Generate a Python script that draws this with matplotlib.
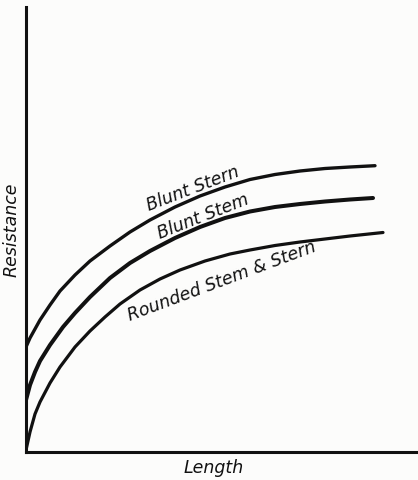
import matplotlib
matplotlib.use("Agg")
import matplotlib.pyplot as plt

# curve points (arbitrary units: length 0-392, resistance 0-445)
stern_x = [0, 4, 9, 14, 24, 34, 49, 64, 84, 104, 124, 149, 174, 199, 224, 249, 274, 299, 324, 349]
stern_y = [105, 114, 123, 132, 147, 161, 177, 191, 206, 220, 232, 245, 256, 265, 272.5, 277.5,
           281, 283.5, 285, 286.3]

stem_x = [0, 4, 9, 14, 24, 37, 49, 64, 84, 104, 124, 149, 174, 199, 224, 249, 274, 299, 324, 347]
stem_y = [52, 67, 80, 91, 107, 125, 139, 155, 174, 189, 201, 214, 225, 234, 240.5, 245, 248,
          250.5, 252.5, 254]

rounded_x = [0, 4, 9, 14, 24, 34, 49, 64, 79, 94, 114, 134, 154, 179, 204, 224, 249, 274, 299,
             324, 357]
rounded_y = [2, 20, 38, 50, 69, 85, 105, 121, 135, 148, 162, 173, 182, 191, 198, 202, 206.5,
             210, 213, 216, 219.5]

labels = ["Blunt Stern", "Blunt Stem", "Rounded Stem & Stern"]
label_pos = [(167, 263), (177, 235), (196, 171)]
label_rot = [21, 21.5, 20.5]

INK = "#111111"

fig = plt.figure(figsize=(4.18, 4.80), dpi=100)
fig.patch.set_facecolor("#fcfcfb")
ax = fig.add_axes([26 / 418, 28 / 480, 392 / 418, 445 / 480])
ax.set_facecolor("#fcfcfb")

ax.plot(stern_x, stern_y, color=INK, lw=2.4, solid_capstyle="round", solid_joinstyle="round")
ax.plot(stem_x, stem_y, color=INK, lw=2.9, solid_capstyle="round", solid_joinstyle="round")
ax.plot(rounded_x, rounded_y, color=INK, lw=2.3, solid_capstyle="round", solid_joinstyle="round")

for text, (x, y), rot in zip(labels, label_pos, label_rot):
    ax.text(x, y, text, rotation=rot, rotation_mode="anchor", ha="center", va="center",
            fontsize=12.5, fontstyle="italic", color=INK)

ax.set_xlim(0, 392)
ax.set_ylim(0, 445)
ax.set_xticks([])
ax.set_yticks([])
for side in ["top", "right"]:
    ax.spines[side].set_visible(False)
for side in ["left", "bottom"]:
    ax.spines[side].set_linewidth(2.2)
    ax.spines[side].set_color(INK)

fig.text(214 / 418, 1 - 468 / 480, "Length", ha="center", va="center",
         fontsize=12.5, fontstyle="italic", color=INK)
fig.text(12 / 418, 1 - 230 / 480, "Resistance", ha="center", va="center", rotation=90,
         fontsize=12.5, fontstyle="italic", color=INK)

fig.savefig("out.png", dpi=100, facecolor=fig.get_facecolor())
